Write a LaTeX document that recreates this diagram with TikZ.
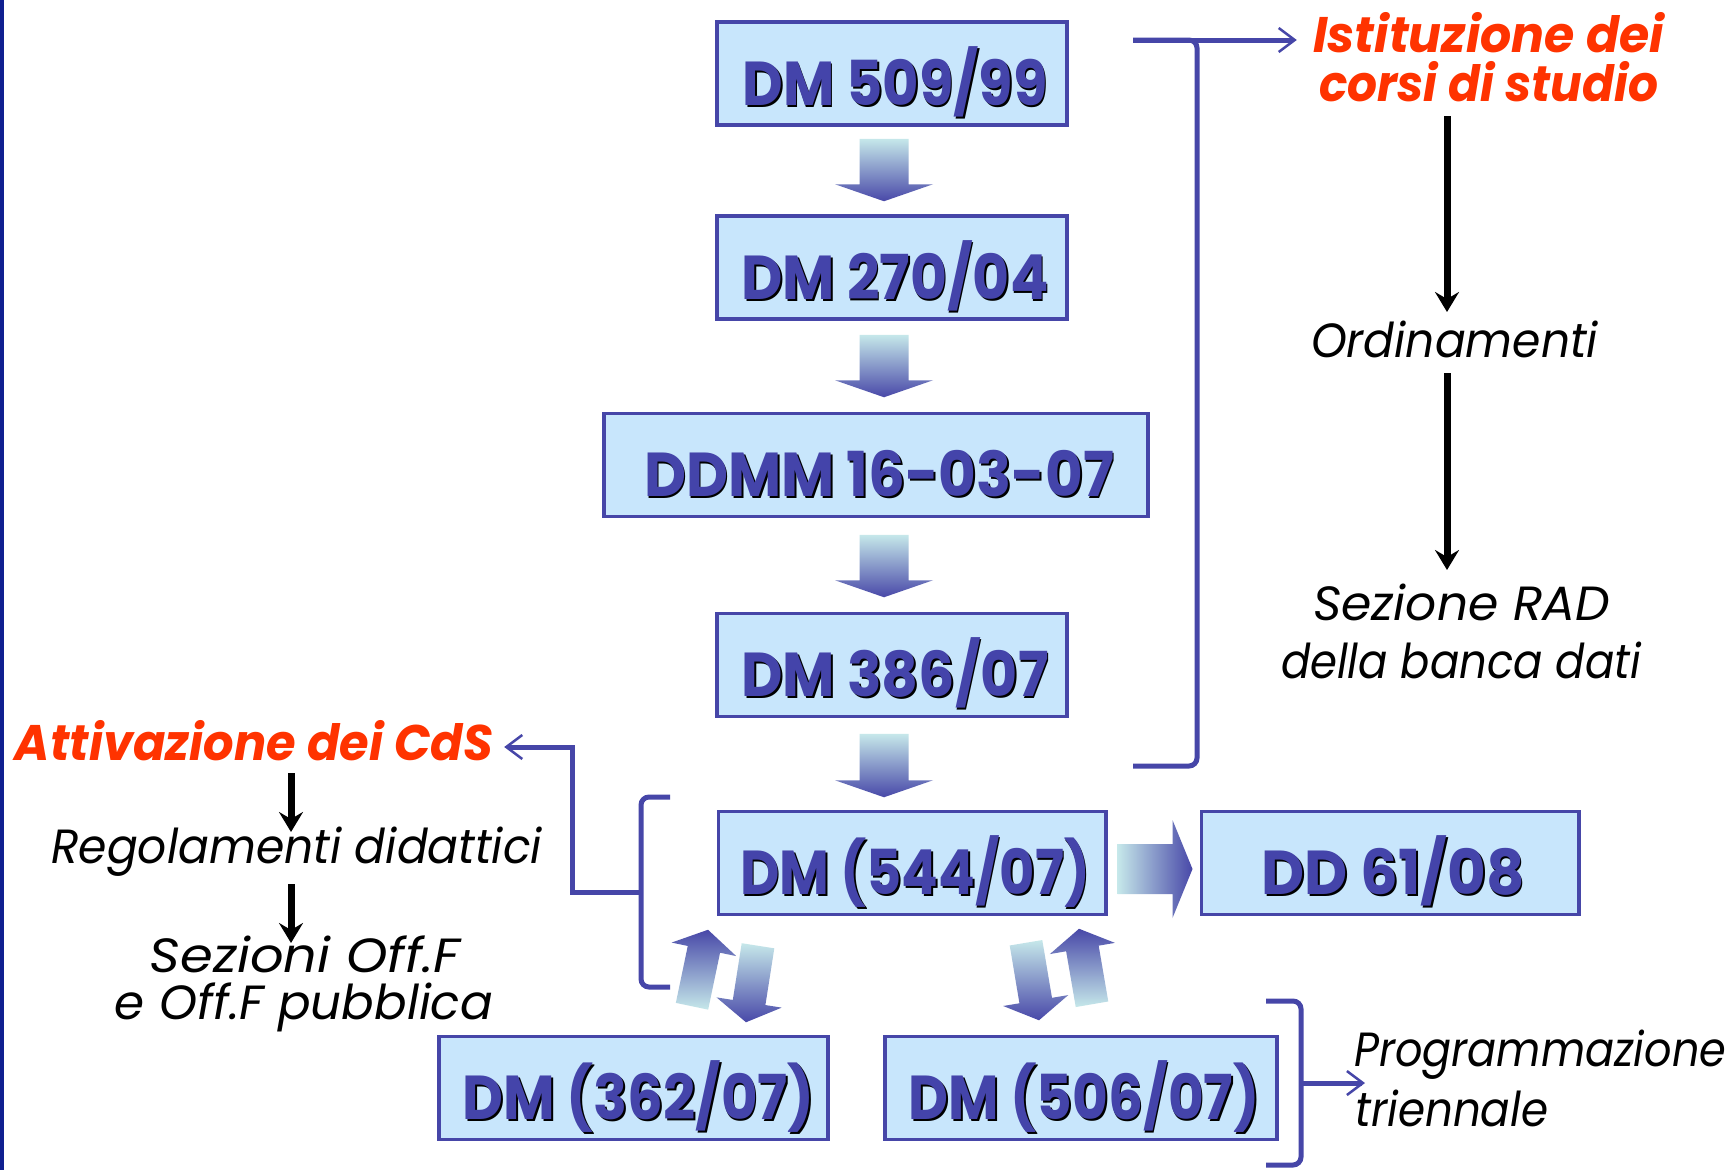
\documentclass[tikz,border=0pt]{standalone}
\usepackage{fontspec}
\setmainfont{Poppins}
\usepackage{graphicx}
\usetikzlibrary{calc,arrows.meta}

\definecolor{boxfill}{HTML}{C8E6FC}
\definecolor{boxline}{HTML}{4646A8}
\definecolor{boxtext}{HTML}{4444AA}
\definecolor{arrowdark}{HTML}{4848A8}
\definecolor{arrowlight}{HTML}{C6E8EA}
\definecolor{labelred}{HTML}{FF3300}
\definecolor{edgeblue}{HTML}{102090}

% scale a line of text to a given width, keeping its height
\newcommand\fitto[2]{\resizebox{#1}{\height}{#2}}
% blue lettering with a black drop shadow
\newcommand\shtext[1]{\makebox[0pt][l]{\kern2pt\raisebox{-2pt}{\color{black}#1}}\textcolor{boxtext}{#1}}
% shaded block arrow: tail, tip, shaft half-width, head half-width, head length, shading
\newcommand\blockarrow[6]{%
  \path ($(#2)!#5!(#1)$) coordinate (bahead);
  \shade[#6] ($(#1)!#3!90:(#2)$) -- ($(bahead)!#3!90:(#2)$) -- ($(bahead)!#4!90:(#2)$)
    -- (#2) -- ($(bahead)!#4!-90:(#2)$) -- ($(bahead)!#3!-90:(#2)$) -- ($(#1)!#3!-90:(#2)$) -- cycle;
}

\tikzset{
  docbox/.style={draw=boxline, line width=3.5pt, fill=boxfill, inner sep=0pt, minimum height=103pt},
  boxlabel/.style={anchor=base, inner sep=0pt, font=\fontsize{62}{62}\selectfont\bfseries},
  labeltext/.style={anchor=base, inner sep=0pt, font=\fontsize{48}{48}\selectfont\itshape},
  redlabel/.style={anchor=base, inner sep=0pt, text=labelred, font=\fontsize{50}{50}\selectfont\bfseries\itshape},
  bracketline/.style={draw=boxline, line width=5pt, rounded corners=8pt},
  bluearrow/.style={draw=boxline, line width=5pt, -{Straight Barb[length=16pt,width=24pt,line width=2.5pt]}},
  flowarrow/.style={draw=black, line width=7pt, -{Stealth[length=20pt,width=24pt,inset=7pt]}},
  downshade/.style={top color=arrowlight, bottom color=arrowdark},
  upshade/.style={top color=arrowdark, bottom color=arrowlight},
}

\begin{document}
\begin{tikzpicture}[x=1pt, y=-1pt]
\fill[white] (0,0) rectangle (1736,1170);
\useasboundingbox (0,0) rectangle (1736,1170);
\fill[edgeblue] (0,0) rectangle (3.5,1170);

% decree boxes
\node[docbox, minimum width=350pt] (b1) at (892,73.5) {};
\node[docbox, minimum width=350pt] (b2) at (892,267.5) {};
\node[docbox, minimum width=544pt] (b3) at (876,465) {};
\node[docbox, minimum width=350pt] (b4) at (892,665) {};
\node[docbox, minimum width=387.5pt] (b5) at (912,863) {};
\node[docbox, minimum width=377.5pt] (b6) at (1390,863) {};
\node[docbox, minimum width=389pt] (b7) at (633.5,1088) {};
\node[docbox, minimum width=392pt] (b8) at (1081,1088) {};

\node[boxlabel] (t1) at ([xshift=3pt,yshift=-85pt]b1.north) {\fitto{305pt}{\shtext{DM 509/99}}};
\node[boxlabel] (t2) at ([xshift=3pt,yshift=-85pt]b2.north) {\fitto{307pt}{\shtext{DM 270/04}}};
\node[boxlabel] (t3) at ([xshift=3pt,yshift=-85pt]b3.north) {\fitto{470pt}{\shtext{DDMM 16-03-07}}};
\node[boxlabel] (t4) at ([xshift=3pt,yshift=-85pt]b4.north) {\fitto{307pt}{\shtext{DM 386/07}}};
\node[boxlabel] (t5) at ([xshift=3pt,yshift=-85pt]b5.north) {\fitto{350pt}{\shtext{DM (544/07)}}};
\node[boxlabel] (t6) at ([xshift=3pt,yshift=-85pt]b6.north) {\fitto{263pt}{\shtext{DD 61/08}}};
\node[boxlabel] (t7) at ([xshift=5pt,yshift=-85pt]b7.north) {\fitto{352pt}{\shtext{DM (362/07)}}};
\node[boxlabel] (t8) at ([xshift=3pt,yshift=-85pt]b8.north) {\fitto{351pt}{\shtext{DM (506/07)}}};

% side labels
\node[redlabel] (ist1) at (1488.5,52) {\fitto{351pt}{Istituzione dei}};
\node[redlabel] (ist2) at (1488.5,101) {\fitto{339pt}{corsi di studio}};
\node[labeltext] (ord) at (1454.5,357) {\fitto{287pt}{Ordinamenti}};
\node[labeltext] (rad1) at (1461.5,620) {\fitto{297pt}{Sezione RAD}};
\node[labeltext] (rad2) at (1461,678) {\fitto{360pt}{della banca dati}};
\node[redlabel] (att) at (254,760) {\fitto{478pt}{Attivazione dei CdS}};
\node[labeltext] (reg) at (296.5,863) {\fitto{491pt}{Regolamenti didattici}};
\node[labeltext] (off1) at (305,972) {\fitto{310pt}{Sezioni Off.F}};
\node[labeltext] (off2) at (304,1019) {\fitto{378pt}{e Off.F pubblica}};
\node[labeltext, anchor=base west] (prog) at (1354,1066) {\fitto{372pt}{Programmazione}};
\node[labeltext, anchor=base west] (tri) at (1355,1126) {\fitto{193pt}{triennale}};

% downward chain of block arrows
\coordinate (a1s) at ($(b1.south)+(-8,12)$);
\coordinate (a1e) at ($(a1s |- b2.north)+(0,-13)$);
\coordinate (a2s) at ($(b2.south)+(-8,14)$);
\coordinate (a2e) at ($(a2s |- b3.north)+(0,-14.5)$);
\coordinate (a3s) at ($(b3.south)+(8,16.5)$);
\coordinate (a3e) at ($(a3s |- b4.north)+(0,-14.5)$);
\coordinate (a4s) at ($(b4.south)+(-8,15.5)$);
\coordinate (a4e) at ($(a4s |- b5.north)+(0,-12.5)$);
\blockarrow{a1s}{a1e}{24.5pt}{49pt}{17pt}{downshade}
\blockarrow{a2s}{a2e}{24.5pt}{49pt}{17pt}{downshade}
\blockarrow{a3s}{a3e}{24.5pt}{49pt}{17pt}{downshade}
\blockarrow{a4s}{a4e}{24.5pt}{49pt}{17pt}{downshade}

% DM (544/07) to DD 61/08
\coordinate (a5s) at ($(b5.east)+(10,6)$);
\coordinate (a5e) at ($(a5s -| b6.west)+(-7,0)$);
\blockarrow{a5s}{a5e}{25pt}{49pt}{20pt}{left color=arrowlight, right color=arrowdark}

% two-way exchanges with the lower decrees
\coordinate (lus) at ($(b7.north)+(58.5,-28.5)$);
\coordinate (lue) at ($(b5.south)+(-204,13.5)$);
\coordinate (lds) at ($(b5.south)+(-154,29.5)$);
\coordinate (lde) at ($(b7.north)+(112.5,-12.5)$);
\coordinate (rds) at ($(b5.south)+(114,26.5)$);
\coordinate (rde) at ($(b8.north)+(-42,-14.5)$);
\coordinate (rus) at ($(b8.north)+(11,-30.5)$);
\coordinate (rue) at ($(b5.south)+(167,12.5)$);
\blockarrow{lus}{lue}{16.5pt}{33pt}{20pt}{upshade}
\blockarrow{lds}{lde}{16.5pt}{33pt}{20pt}{downshade}
\blockarrow{rds}{rde}{16.5pt}{33pt}{20pt}{downshade}
\blockarrow{rus}{rue}{16.5pt}{33pt}{20pt}{upshade}

% brackets and their arrows
\draw[bracketline] (1133,40) -| (1197,766) -- (1133,766);
\draw[bluearrow] (1133,40) -- ($(ist1.base west)+(-16,-12)$);
\draw[bracketline] (670,797) -| (641,987) -- (670,987);
\draw[bluearrow] (641,892) -- ++(-69,0) |- ($(att.base east)+(11,-13)$);
\draw[bracketline] (1266,1001) -| (1301,1165) -- (1266,1165);
\draw[bluearrow] (1301,1083) -- ($(prog.base west)+(11,17)$);

% black flow arrows
\draw[flowarrow] ($(ist2.base)+(-41.5,15)$) -- ($(ord.base)+(-7.5,-45)$);
\draw[flowarrow] ($(ord.base)+(-7.5,16)$) -- ($(rad1.base)+(-14.5,-50)$);
\draw[flowarrow] ($(att.base)+(37,13)$) -- ($(reg.base)+(-5.5,-31)$);
\draw[flowarrow] ($(reg.base)+(-5.5,21)$) -- ($(off1.base)+(-14,-29)$);
\end{tikzpicture}
\end{document}
